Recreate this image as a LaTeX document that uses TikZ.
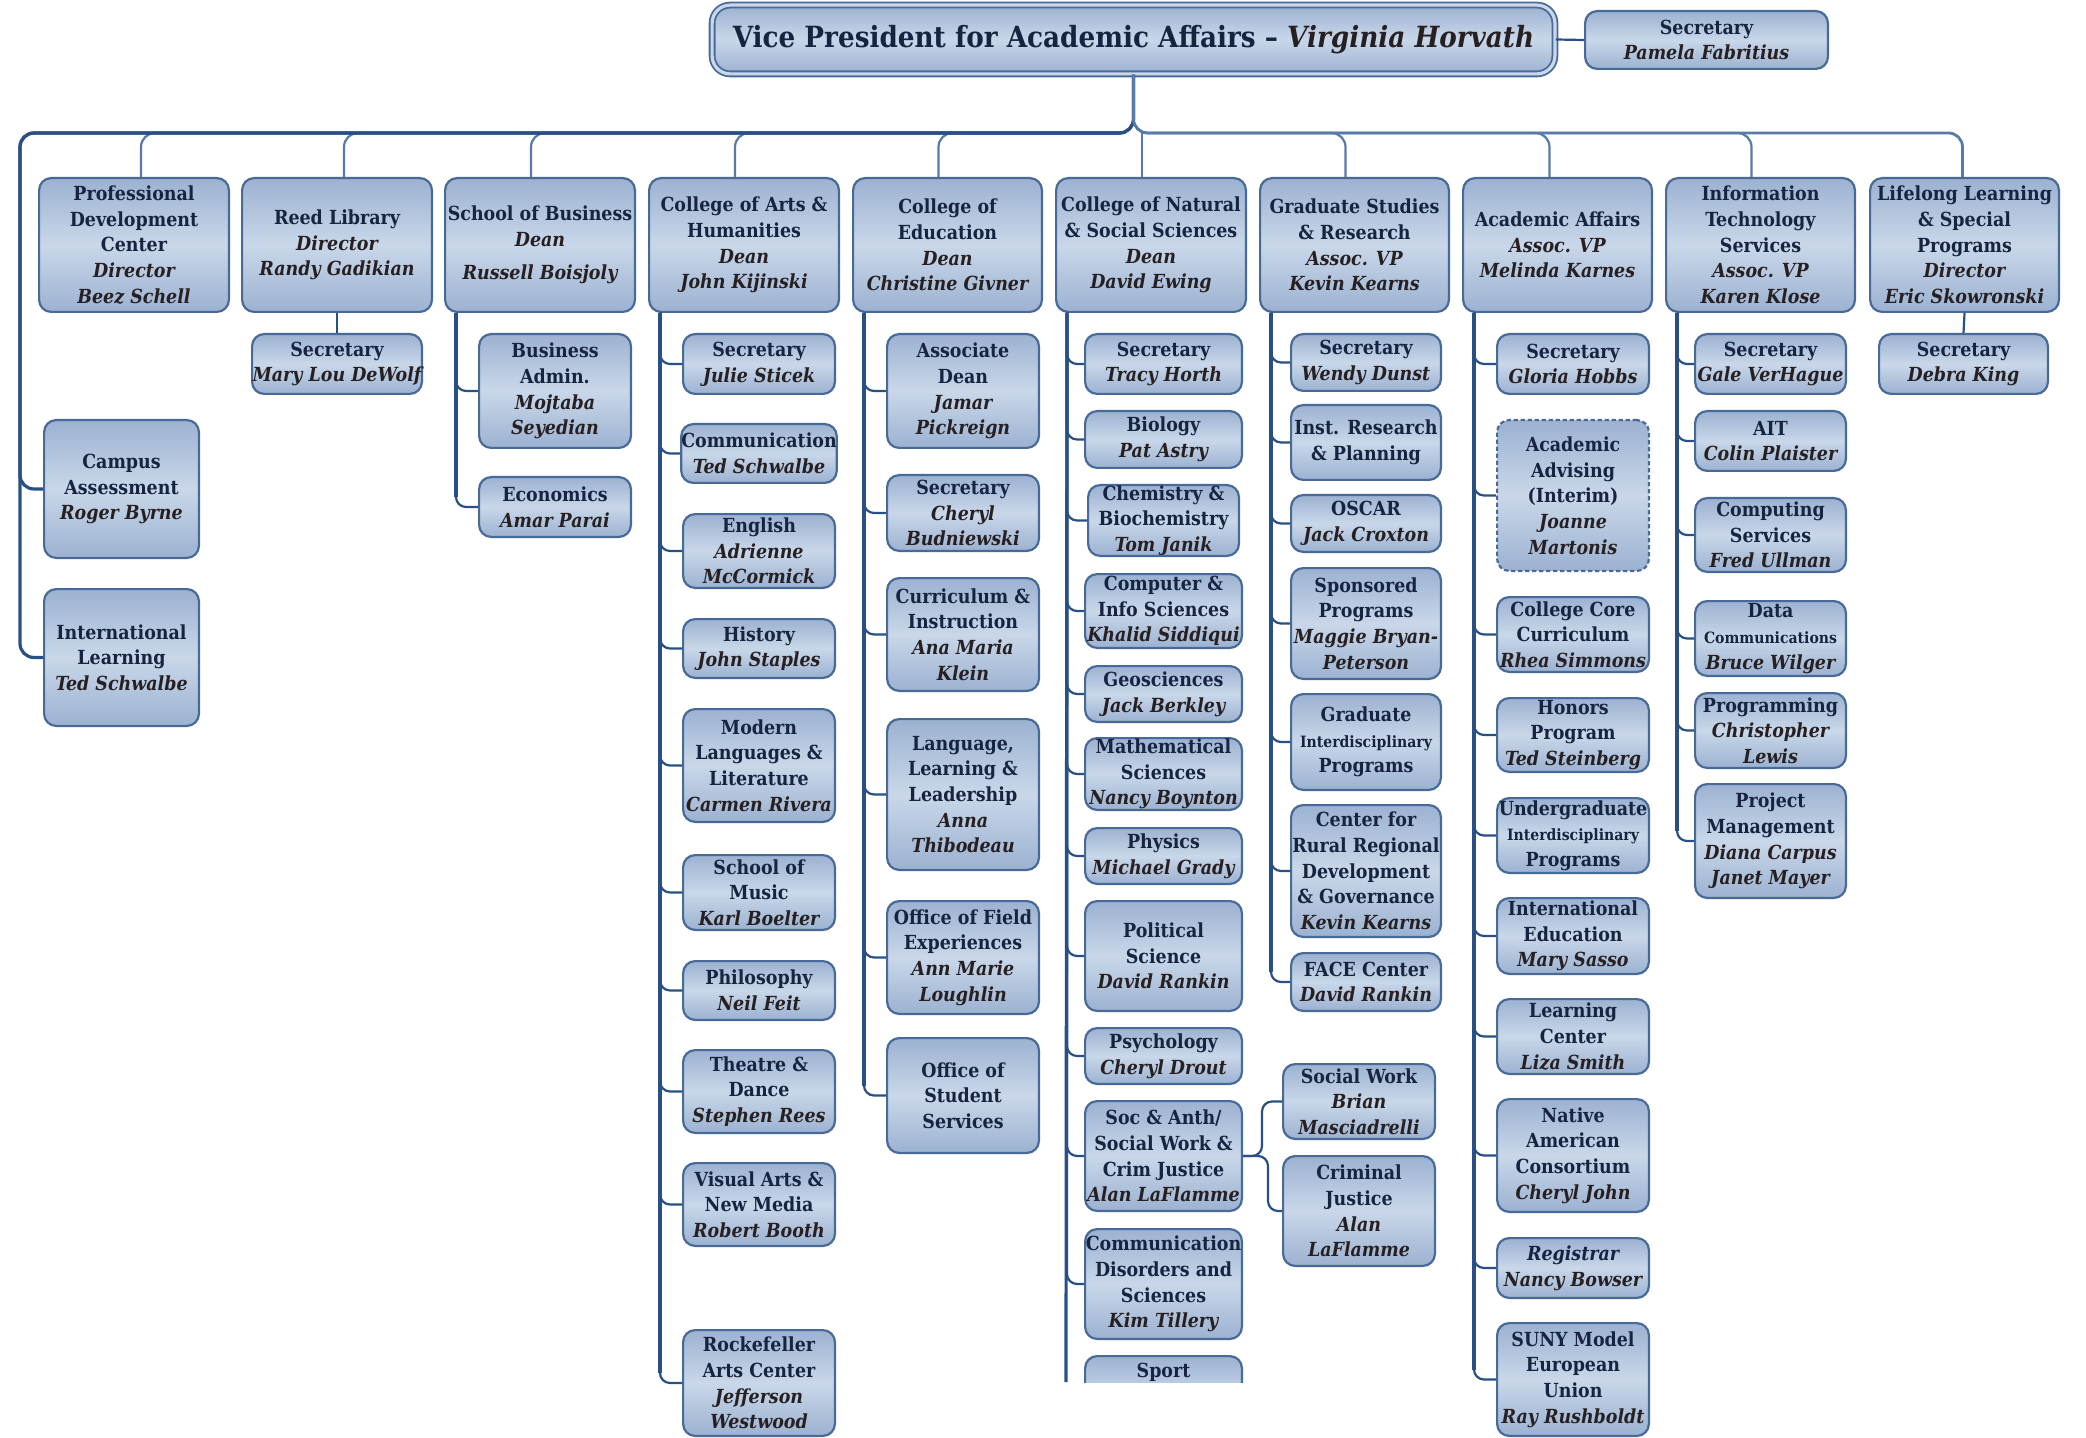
\documentclass[tikz,border=0pt]{standalone}
\usepackage{fontspec}
\setmainfont{DejaVuSerifCondensed}[Extension=.ttf, BoldFont=*-Bold, ItalicFont=*-Italic, BoldItalicFont=*-BoldItalic]
\definecolor{boxd}{RGB}{156,178,209}
\definecolor{boxl}{RGB}{201,215,233}
\definecolor{bordc}{RGB}{72,106,152}
\definecolor{connd}{RGB}{40,80,132}
\definecolor{connm}{RGB}{88,122,168}
\definecolor{titc}{RGB}{22,36,64}
\definecolor{namc}{RGB}{38,32,34}
\newcommand\bxfont{\bfseries\fontsize{9.7}{12.85}\selectfont}
\newcommand\nm[1]{{\itshape\color{namc}#1}}
\newcommand\sm[1]{{\fontsize{7.8}{12.85}\selectfont #1}}
\newcommand\bx[7][box]{%
  \pgfmathsetmacro\bxcx{(#3+#5)/2}\pgfmathsetmacro\bxcy{(#4+#6)/2}%
  \pgfmathsetmacro\bxw{(#5-#3)*0.5-1.1}\pgfmathsetmacro\bxh{(#6-#4)*0.5-1.1}%
  \node[#1, minimum width=\bxw pt, minimum height=\bxh pt] (#2) at (\bxcx,\bxcy) {#7};}
\newcommand\drp[2]{\draw[topc] (vp.south) |- ([xshift=#2pt]#1.north |- bar) -- ([xshift=#2pt]#1.north);}
\newcommand\elb[2]{\draw[conn] ([xshift=6pt]#1.south west) |- (#2.west);}
\newcommand\trk[2]{\draw[trunkst] ([xshift=6pt]#1.south west) -- ([xshift=6pt,yshift=5pt]#1.south west |- #2.west);}
\begin{document}
\begin{tikzpicture}[x=0.5pt,y=-0.5pt,
  box/.style={rounded corners=6pt, draw=bordc, line width=1.1pt, top color=boxd, bottom color=boxd, middle color=boxl, align=center, inner sep=0pt, text=titc, font=\bxfont},
  dbox/.style={box, dash pattern=on 2.2pt off 1.3pt},
  vpbox/.style={box, rounded corners=9pt, line width=0.9pt, double=boxl, double distance=1.6pt, font=\bfseries\fontsize{14.6}{17}\selectfont},
  conn/.style={draw=connd, line width=1.1pt, rounded corners=5pt},
  topc/.style={draw=connm, line width=1.1pt, rounded corners=7pt},
  barL/.style={draw=connd, line width=1.6pt, rounded corners=7pt},
  barR/.style={draw=connm, line width=1.4pt, rounded corners=7pt},
  trunkst/.style={draw=connd, line width=1.6pt}]
\useasboundingbox (0,0) rectangle (2086,1438);
\coordinate (bar) at (0,133);
% top
\bx[vpbox]{vp}{711}{4}{1556}{75}{Vice President for Academic Affairs – {\color{namc}\itshape Virginia Horvath}}
\bx{vpsec}{1584}{10}{1829}{70}{Secretary\\\nm{Pamela Fabritius}}
% level 1
\bx{pdc}{38}{177}{230}{313}{Professional\\Development\\Center\\\nm{Director}\\\nm{Beez Schell}}
\bx{reed}{241}{177}{433}{313}{Reed Library\\\nm{Director}\\\nm{Randy Gadikian}}
\bx{sob}{444}{177}{636}{313}{School of Business\\\nm{Dean}\\[4pt]\nm{Russell Boisjoly}}
\bx{cah}{648}{177}{840}{313}{College of Arts \&\\Humanities\\\nm{Dean}\\\nm{John Kijinski}}
\bx{coe}{852}{177}{1043}{313}{College of\\Education\\\nm{Dean}\\\nm{Christine Givner}}
\bx{cnss}{1055}{177}{1247}{313}{College of Natural\\\& Social Sciences\\\nm{Dean}\\\nm{David Ewing}}
\bx{gsr}{1259}{177}{1450}{313}{Graduate Studies\\\& Research\\\nm{Assoc. VP}\\\nm{Kevin Kearns}}
\bx{aa}{1462}{177}{1653}{313}{Academic Affairs\\\nm{Assoc. VP}\\\nm{Melinda Karnes}}
\bx{its}{1665}{177}{1856}{313}{Information\\Technology\\Services\\\nm{Assoc. VP}\\\nm{Karen Klose}}
\bx{llsp}{1869}{177}{2060}{313}{Lifelong Learning\\\& Special\\Programs\\\nm{Director}\\\nm{Eric Skowronski}}
% left column
\bx{reedsec}{251}{333}{423}{395}{Secretary\\\nm{Mary Lou DeWolf}}
\bx{ba}{478}{333}{632}{449}{Business\\Admin.\\\nm{Mojtaba}\\\nm{Seyedian}}
\bx{econ}{478}{476}{632}{538}{Economics\\\nm{Amar Parai}}
\bx{campus}{43}{419}{200}{559}{Campus\\Assessment\\\nm{Roger Byrne}}
\bx{intl}{43}{588}{200}{727}{International\\Learning\\\nm{Ted Schwalbe}}
% CAH
\bx{cah1}{682}{333}{836}{395}{Secretary\\\nm{Julie Sticek}}
\bx{cah2}{682}{423}{836}{484}{Communication\\\nm{Ted Schwalbe}}
\bx{cah3}{682}{513}{836}{589}{English\\\nm{Adrienne}\\\nm{McCormick}}
\bx{cah4}{682}{618}{836}{679}{History\\\nm{John Staples}}
\bx{cah5}{682}{708}{836}{823}{Modern\\Languages \&\\Literature\\\nm{Carmen Rivera}}
\bx{cah6}{682}{854}{836}{931}{School of\\Music\\\nm{Karl Boelter}}
\bx{cah7}{682}{960}{836}{1021}{Philosophy\\\nm{Neil Feit}}
\bx{cah8}{682}{1049}{836}{1134}{Theatre \&\\Dance\\\nm{Stephen Rees}}
\bx{cah9}{682}{1162}{836}{1247}{Visual Arts \&\\New Media\\\nm{Robert Booth}}
\bx{cah10}{682}{1329}{836}{1437}{Rockefeller\\Arts Center\\\nm{Jefferson}\\\nm{Westwood}}
% CoE
\bx{coe1}{886}{333}{1040}{449}{Associate\\Dean\\\nm{Jamar}\\\nm{Pickreign}}
\bx{coe2}{886}{474}{1040}{552}{Secretary\\\nm{Cheryl}\\\nm{Budniewski}}
\bx{coe3}{886}{577}{1040}{692}{Curriculum \&\\Instruction\\\nm{Ana Maria}\\\nm{Klein}}
\bx{coe4}{886}{718}{1040}{871}{Language,\\Learning \&\\Leadership\\\nm{Anna}\\\nm{Thibodeau}}
\bx{coe5}{886}{900}{1040}{1015}{Office of Field\\Experiences\\\nm{Ann Marie}\\\nm{Loughlin}}
\bx{coe6}{886}{1037}{1040}{1154}{Office of\\Student\\Services}
% CNSS
\bx{ns1}{1084}{333}{1243}{395}{Secretary\\\nm{Tracy Horth}}
\bx{ns2}{1084}{410}{1243}{469}{Biology\\\nm{Pat Astry}}
\bx{ns3}{1087}{484}{1240}{557}{Chemistry \&\\Biochemistry\\\nm{Tom Janik}}
\bx{ns4}{1084}{573}{1243}{649}{Computer \&\\Info Sciences\\\nm{Khalid Siddiqui}}
\bx{ns5}{1084}{665}{1243}{723}{Geosciences\\\nm{Jack Berkley}}
\bx{ns6}{1084}{737}{1243}{811}{Mathematical\\Sciences\\\nm{Nancy Boynton}}
\bx{ns7}{1084}{827}{1243}{885}{Physics\\\nm{Michael Grady}}
\bx{ns8}{1084}{900}{1243}{1012}{Political\\Science\\\nm{David Rankin}}
\bx{ns9}{1084}{1027}{1243}{1085}{Psychology\\\nm{Cheryl Drout}}
\bx{ns10}{1084}{1100}{1243}{1212}{Soc \& Anth/\\Social Work \&\\Crim Justice\\\nm{Alan LaFlamme}}
\bx{ns11}{1084}{1228}{1243}{1340}{Communication\\Disorders and\\Sciences\\\nm{Kim Tillery}}
\bx{sw}{1282}{1063}{1436}{1140}{Social Work\\\nm{Brian}\\\nm{Masciadrelli}}
\bx{cj}{1282}{1155}{1436}{1267}{Criminal\\Justice\\\nm{Alan}\\\nm{LaFlamme}}
\begin{scope}
\clip (1000,1340) rectangle (1300,1382);
\node[box, anchor=north, minimum width=78.4pt, minimum height=40pt, inner ysep=3pt, text depth=0pt] (sport) at (1163.5,1355) {Sport\\\phantom{X}\\\phantom{X}};
\end{scope}
\coordinate (cnssend) at (1066,1382);
% GSR
\bx{gs1}{1290}{333}{1442}{392}{Secretary\\\nm{Wendy Dunst}}
\bx{gs2}{1290}{404}{1442}{481}{Inst. Research\\\& Planning}
\bx{gs3}{1290}{494}{1442}{553}{OSCAR\\\nm{Jack Croxton}}
\bx{gs4}{1290}{567}{1442}{680}{Sponsored\\Programs\\\nm{Maggie Bryan-}\\\nm{Peterson}}
\bx{gs5}{1290}{693}{1442}{791}{Graduate\\\sm{Interdisciplinary}\\Programs}
\bx{gs6}{1290}{804}{1442}{938}{Center for\\Rural Regional\\Development\\\& Governance\\\nm{Kevin Kearns}}
\bx{gs7}{1290}{952}{1442}{1012}{FACE Center\\\nm{David Rankin}}
% AA
\bx{aa1}{1496}{333}{1650}{395}{Secretary\\\nm{Gloria Hobbs}}
\bx[dbox]{aa2}{1496}{419}{1650}{572}{Academic\\Advising\\(Interim)\\\nm{Joanne}\\\nm{Martonis}}
\bx{aa3}{1496}{596}{1650}{673}{College Core\\Curriculum\\\nm{Rhea Simmons}}
\bx{aa4}{1496}{697}{1650}{773}{Honors\\Program\\\nm{Ted Steinberg}}
\bx{aa5}{1496}{797}{1650}{874}{Undergraduate\\\sm{Interdisciplinary}\\Programs}
\bx{aa6}{1496}{897}{1650}{975}{International\\Education\\\nm{Mary Sasso}}
\bx{aa7}{1496}{998}{1650}{1075}{Learning\\Center\\\nm{Liza Smith}}
\bx{aa8}{1496}{1098}{1650}{1213}{Native\\American\\Consortium\\\nm{Cheryl John}}
\bx{aa9}{1496}{1237}{1650}{1299}{{\itshape Registrar}\\\nm{Nancy Bowser}}
\bx{aa10}{1496}{1322}{1650}{1437}{SUNY Model\\European\\Union\\\nm{Ray Rushboldt}}
% ITS
\bx{it1}{1694}{333}{1847}{395}{Secretary\\\nm{Gale VerHague}}
\bx{it2}{1694}{410}{1847}{472}{AIT\\\nm{Colin Plaister}}
\bx{it3}{1694}{497}{1847}{573}{Computing\\Services\\\nm{Fred Ullman}}
\bx{it4}{1694}{600}{1847}{677}{Data\\\sm{Communications}\\\nm{Bruce Wilger}}
\bx{it5}{1694}{692}{1847}{769}{Programming\\\nm{Christopher}\\\nm{Lewis}}
\bx{it6}{1694}{783}{1847}{899}{Project\\Management\\\nm{Diana Carpus}\\\nm{Janet Mayer}}
% LLSP
\bx{llsec}{1878}{333}{2049}{395}{Secretary\\\nm{Debra King}}
% ---------- connectors
\draw[conn] (vp.east) -- (vpsec.west);
\drp{pdc}{3.5}
\drp{reed}{3.5}
\drp{sob}{-4.5}
\drp{cah}{-4.5}
\drp{coe}{-4.5}
\drp{gsr}{-4.5}
\drp{aa}{-4}
\drp{its}{-4.5}
\draw[topc] ([xshift=-4.7pt]cnss.north |- bar) -- ([xshift=-4.7pt]cnss.north);
\draw[barL] (vp.south) |- (20,133) |- (campus.west);
\draw[barL] (vp.south) |- (20,133) |- (intl.west);
\draw[barR] (vp.south) |- ([xshift=-1pt]llsp.north |- bar) -- ([xshift=-1pt]llsp.north);
\draw[conn] (reed.south) -- (reedsec.north);
\draw[conn] (llsp.south) -- (llsec.north);
% trunks
\trk{sob}{econ}
\trk{cah}{cah10}
\trk{coe}{coe6}
\trk{gsr}{gs7}
\trk{aa}{aa10}
\trk{its}{it6}
\draw[trunkst] ([xshift=6pt]cnss.south west) -- (cnssend);
% elbows
\foreach \c in {ba,econ}{\elb{sob}{\c}}
\foreach \c in {cah1,cah2,cah3,cah4,cah5,cah6,cah7,cah8,cah9,cah10}{\elb{cah}{\c}}
\foreach \c in {coe1,coe2,coe3,coe4,coe5,coe6}{\elb{coe}{\c}}
\foreach \c in {ns1,ns2,ns3,ns4,ns5,ns6,ns7,ns8,ns9,ns10,ns11}{\elb{cnss}{\c}}
\foreach \c in {gs1,gs2,gs3,gs4,gs5,gs6,gs7}{\elb{gsr}{\c}}
\foreach \c in {aa1,aa2,aa3,aa4,aa5,aa6,aa7,aa8,aa9,aa10}{\elb{aa}{\c}}
\foreach \c in {it1,it2,it3,it4,it5,it6}{\elb{its}{\c}}
\draw[conn] (ns10.east) -| ([xshift=-10pt]sw.west) -- (sw.west);
\draw[conn] (ns10.east) -| ([xshift=-7pt]cj.west) -- (cj.west);
\end{tikzpicture}
\end{document}
